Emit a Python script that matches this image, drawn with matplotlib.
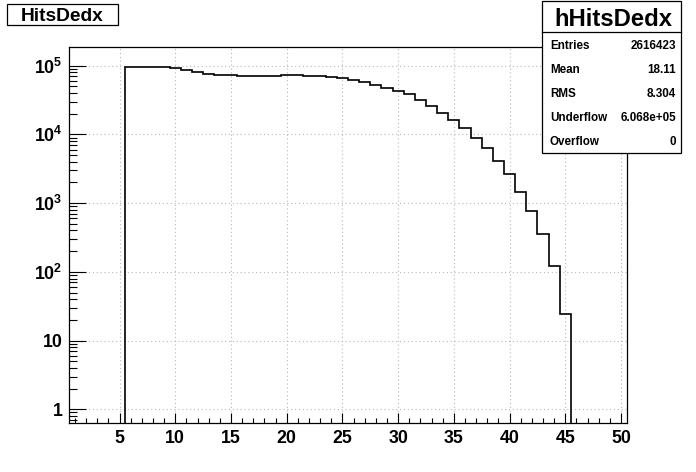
import numpy as np
import matplotlib
matplotlib.use('Agg')
import matplotlib.pyplot as plt
from matplotlib.patches import Rectangle
from matplotlib.ticker import FixedLocator, FixedFormatter, LogLocator, MultipleLocator, NullFormatter

plt.rcParams['font.family'] = ['Liberation Sans', 'DejaVu Sans']
plt.rcParams['mathtext.fontset'] = 'custom'
plt.rcParams['mathtext.rm'] = 'Liberation Sans:bold'
plt.rcParams['mathtext.it'] = 'Liberation Sans:bold'
plt.rcParams['mathtext.bf'] = 'Liberation Sans:bold'

# ---- data ----
bin_centers = [6, 7, 8, 9, 10, 11, 12, 13, 14, 15, 16, 17, 18, 19, 20, 21, 22, 23, 24, 25,
               26, 27, 28, 29, 30, 31, 32, 33, 34, 35, 36, 37, 38, 39, 40, 41, 42, 43, 44, 45]
counts = [96700, 96600, 96600, 96500, 93500, 87500, 80000, 76600, 73000, 73000,
          71600, 71600, 71500, 71600, 74000, 74000, 71600, 71600, 68200, 66000,
          61800, 58500, 53000, 47900, 42800, 38400, 31700, 25900, 20500, 16100,
          12300, 8800, 6300, 4130, 2670, 1450, 776, 352, 123, 24]
bin_width = 1.0
x_range = (0.5, 50.5)
x_ticks = [5, 10, 15, 20, 25, 30, 35, 40, 45, 50]
x_tick_labels = ['5', '10', '15', '20', '25', '30', '35', '40', '45', '50']
y_ticks = [1, 10, 100, 1000, 10000, 100000]
y_tick_labels = ['1', '10', r'$10^{2}$', r'$10^{3}$', r'$10^{4}$', r'$10^{5}$']
y_range = (0.632, 1.9e5)

hist_title = 'HitsDedx'
stats_name = 'hHitsDedx'
stats_labels = ['Entries', 'Mean', 'RMS', 'Underflow', 'Overflow']
stats_values = ['2616423', '18.11', '8.304', '6.068e+05', '0']

# ---- figure ----
W, H = 696, 472
fig = plt.figure(figsize=(W / 100, H / 100), dpi=100)
fig.patch.set_facecolor('white')

def fx(px):
    return px / W

def fy(py):
    return 1 - py / H

left, right, top, bottom = 69.4, 626.6, 46.5, 423
ax = fig.add_axes([fx(left), fy(bottom), fx(right) - fx(left), fy(top) - fy(bottom)])

centers = np.array(bin_centers, dtype=float)
edges = np.concatenate([centers - bin_width / 2, [centers[-1] + bin_width / 2]])
ax.stairs(counts, edges, baseline=1e-3, color='black', linewidth=1.2, zorder=3)

ax.set_yscale('log')
ax.set_xlim(*x_range)
ax.set_ylim(*y_range)

ax.xaxis.set_major_locator(FixedLocator(x_ticks))
ax.xaxis.set_major_formatter(FixedFormatter(x_tick_labels))
ax.xaxis.set_minor_locator(MultipleLocator(1))
ax.yaxis.set_major_locator(FixedLocator(y_ticks))
ax.yaxis.set_major_formatter(FixedFormatter(y_tick_labels))
ax.yaxis.set_minor_locator(LogLocator(base=10, subs=np.arange(2, 10)))
ax.yaxis.set_minor_formatter(NullFormatter())

ax.tick_params(axis='x', which='major', direction='in', length=7.2, width=0.8, pad=5,
               labelsize=12.8, top=False)
ax.tick_params(axis='x', which='minor', direction='in', length=3.3, width=0.8, top=False)
ax.tick_params(axis='y', which='major', direction='in', length=12.2, width=0.8, pad=5,
               labelsize=12.8, right=False)
ax.tick_params(axis='y', which='minor', direction='in', length=6.0, width=0.8, right=False)
for lbl in ax.get_xticklabels() + ax.get_yticklabels():
    lbl.set_fontweight('bold')

ax.grid(True, which='major', linestyle=(0, (1, 2.5)), color='#b8b8b8', linewidth=0.8)
ax.set_axisbelow(True)
for sp in ax.spines.values():
    sp.set_linewidth(0.9)

# ---- title box ----
tx0, ty0, tx1, ty1 = 7, 4, 118, 25
fig.patches.append(Rectangle((fx(tx0), fy(ty1)), fx(tx1) - fx(tx0), fy(ty0) - fy(ty1),
                             transform=fig.transFigure, facecolor='white', edgecolor='black',
                             linewidth=0.9, zorder=5))
fig.text(fx((tx0 + tx1) / 2), fy((ty0 + ty1) / 2), hist_title, ha='center', va='center_baseline',
         fontsize=13.8, fontweight='bold', zorder=6)

# ---- stats box ----
sx0, sy0, sx1, sy1 = 542, 1, 681, 153
sdiv = 32
fig.patches.append(Rectangle((fx(sx0), fy(sy1)), fx(sx1) - fx(sx0), fy(sy0) - fy(sy1),
                             transform=fig.transFigure, facecolor='white', edgecolor='black',
                             linewidth=0.9, zorder=5))
fig.add_artist(plt.Line2D([fx(sx0), fx(sx1)], [fy(sdiv), fy(sdiv)], transform=fig.transFigure,
                          color='black', linewidth=0.9, zorder=6))
fig.text(fx((sx0 + sx1) / 2 + 2), fy((sy0 + sdiv) / 2), stats_name, ha='center', va='center_baseline',
         fontsize=17.2, fontweight='bold', zorder=6)
row_h = (sy1 - sdiv) / len(stats_labels)
for i, (lab, val) in enumerate(zip(stats_labels, stats_values)):
    yc = sdiv + row_h * (i + 0.5)
    fig.text(fx(sx0 + 8), fy(yc), lab, ha='left', va='center_baseline', fontsize=8.4,
             fontweight='bold', zorder=6)
    fig.text(fx(sx1 - 5), fy(yc), val, ha='right', va='center_baseline', fontsize=8.4,
             fontweight='bold', zorder=6)

fig.savefig('out.png', dpi=100)
